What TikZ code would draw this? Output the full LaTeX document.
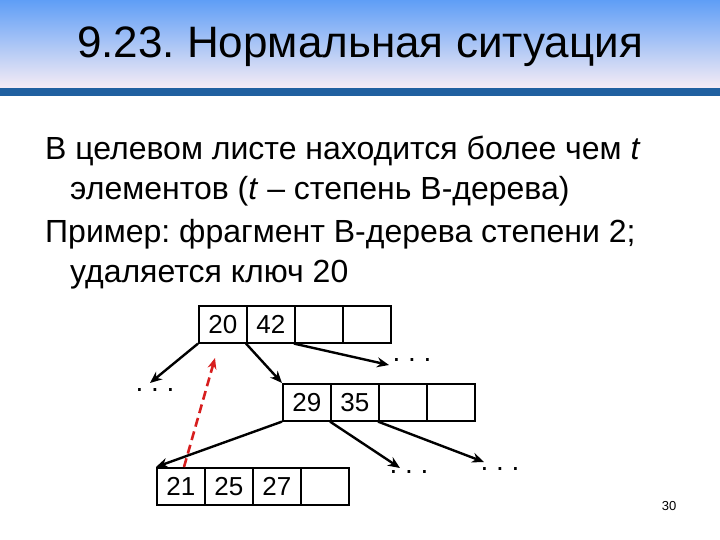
\documentclass[tikz,border=0pt]{standalone}
\usepackage{fontspec}
\setmainfont{Liberation Sans}
\frenchspacing
\usetikzlibrary{arrows.meta}
\definecolor{hdtop}{RGB}{95,158,246}
\definecolor{hdbot}{RGB}{245,236,245}
\definecolor{bar}{RGB}{32,96,160}
\definecolor{redd}{RGB}{215,30,30}
\begin{document}
\begin{tikzpicture}[x=1pt,y=-1pt,
  cell/.style={draw,line width=1.6pt,minimum width=48pt,minimum height=37pt,inner sep=0pt,font=\fontsize{26}{28}\selectfont,anchor=north west},
  arr/.style={-{Stealth[length=12pt,width=10pt]},line width=2.4pt},
  dots/.style={font=\fontsize{28}{30}\selectfont},
  body/.style={anchor=base west,inner sep=0pt,font=\fontsize{32}{34}\selectfont}]
\useasboundingbox (0,0) rectangle (720,540);
\shade[top color=hdtop, bottom color=hdbot] (0,0) rectangle (720,88);
\fill[bar] (0,88) rectangle (720,96);
\node[inner sep=0pt,font=\fontsize{44}{46}\selectfont] (title) at (360,47) {9.23. Нормальная ситуация};
\node[body] (l1) at (45,160) {В целевом листе находится более чем \textit{t}};
\node[body] (l2) at (70,200) {элементов (\textit{t} – степень В-дерева)};
\node[body] (l3) at (45,242) {Пример: фрагмент В-дерева степени 2;};
\node[body] (l4) at (70,282) {удаляется ключ 20};
\node[cell] (a1) at (198,305) {20};
\node[cell] (a2) at (246,305) {42};
\node[cell] (a3) at (294,305) {};
\node[cell] (a4) at (342,305) {};
\node[cell] (b1) at (282,383) {29};
\node[cell] (b2) at (330,383) {35};
\node[cell] (b3) at (378,383) {};
\node[cell] (b4) at (426,383) {};
\node[cell] (c1) at (156,467) {21};
\node[cell] (c2) at (204,467) {25};
\node[cell] (c3) at (252,467) {27};
\node[cell] (c4) at (300,467) {};
\node[dots] (d1) at (155,390) {. . .};
\node[dots] (d2) at (412,360) {. . .};
\node[dots] (d3) at (409,472) {. . .};
\node[dots] (d4) at (500,469) {. . .};
\coordinate (e1) at (150,383);
\coordinate (e2) at (389,365);
\coordinate (e3) at (400,468);
\coordinate (e4) at (484,462);
\draw[arr] (a1.south west) -- (e1);
\draw[arr] (a2.south west) -- (b1.north west);
\draw[arr] (a3.south west) -- (e2);
\draw[arr] (b1.south west) -- (c1.north west);
\draw[arr] (b2.south west) -- (e3);
\draw[arr] (b3.south west) -- (e4);
\coordinate (r1) at (184,467);
\coordinate (r2) at (215,358);
\draw[-{Stealth[length=11pt,width=9pt]},line width=2.6pt,dash pattern=on 9pt off 5pt,redd] (r1) -- (r2);
\node[font=\fontsize{13}{14}\selectfont] (pg) at (669,506) {30};
\end{tikzpicture}
\end{document}
